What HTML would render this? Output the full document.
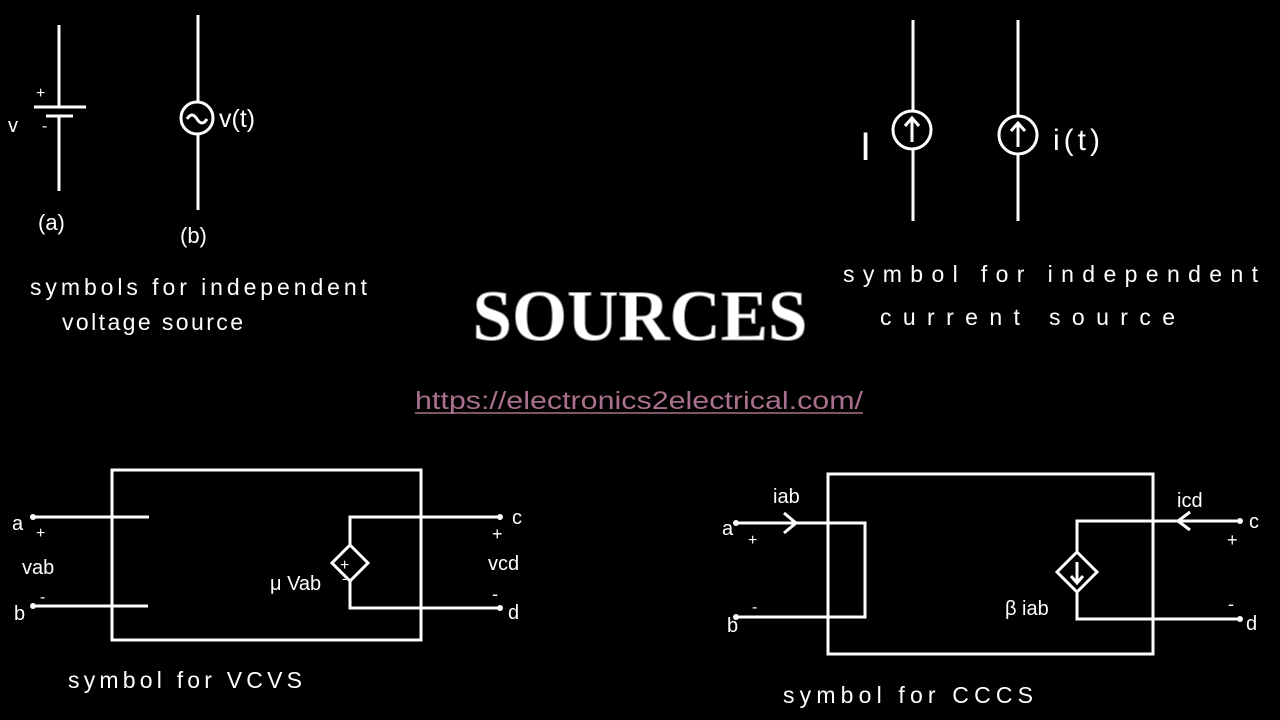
<!DOCTYPE html>
<html><head><meta charset="utf-8"><style>
html,body{margin:0;padding:0;background:#000;width:1280px;height:720px;overflow:hidden}
svg{display:block}
.h{font-family:"Liberation Sans",sans-serif;fill:#fff;font-size:23px}
.s{font-family:"Liberation Sans",sans-serif;fill:#fff;font-size:20px}
</style></head><body>
<svg width="1280" height="720" viewBox="0 0 1280 720">
<rect width="1280" height="720" fill="#000"/>
<g stroke="#fff" stroke-width="3" fill="none">
<line x1="59" y1="25" x2="59" y2="107"/>
<line x1="34" y1="107" x2="86" y2="107"/>
<line x1="46" y1="116" x2="73" y2="116"/>
<line x1="59" y1="116" x2="59" y2="191"/>
<line x1="198" y1="15" x2="198" y2="102"/>
<circle cx="197" cy="118" r="16"/>
<path d="M187 119 q5 -8 10 0 q5 8 10 0"/>
<line x1="198" y1="134" x2="198" y2="210"/>
<line x1="913" y1="20" x2="913" y2="110"/>
<circle cx="912" cy="130" r="19"/>
<line x1="912" y1="142" x2="912" y2="119"/><path d="M905 126 L912 118 L919 126"/>
<line x1="913" y1="149" x2="913" y2="221"/>
<line x1="1018" y1="20" x2="1018" y2="115"/>
<circle cx="1018" cy="135" r="19"/>
<line x1="1018" y1="147" x2="1018" y2="124"/><path d="M1011 131 L1018 123 L1025 131"/>
<line x1="1018" y1="154" x2="1018" y2="221"/>
<rect x="112" y="470" width="309" height="170"/>
<line x1="33" y1="517" x2="149" y2="517"/>
<line x1="33" y1="606" x2="148" y2="606"/>
<path d="M500 517 H350 V545"/>
<path d="M350 581 V608 H500"/>
<path d="M350 545 L368 563 L350 581 L332 563 Z"/>
<rect x="828" y="474" width="325" height="180"/>
<path d="M736 523 H865 V617 H736"/>
<path d="M784 513 L796 523 L784 533"/>
<path d="M1240 521 H1077 V553"/>
<path d="M1077 592 V619 H1240"/>
<path d="M1077 552 L1097 572 L1077 592 L1057 572 Z"/>
<line x1="1077" y1="562" x2="1077" y2="582"/><path d="M1071 576 L1077 583 L1083 576"/>
<path d="M1190 512 L1178 521 L1190 530"/>
</g>
<g fill="#fff">
<circle cx="33" cy="517" r="3"/><circle cx="33" cy="606" r="3"/>
<circle cx="500" cy="517" r="3"/><circle cx="500" cy="608" r="3"/>
<circle cx="736" cy="523" r="3"/><circle cx="736" cy="617" r="3"/>
<circle cx="1240" cy="521" r="3"/><circle cx="1240" cy="619" r="3"/>
</g>
<g class="s">
<text x="8" y="132">v</text><text x="36" y="98" font-size="16">+</text><text x="42" y="131" font-size="16">-</text>
<text x="38" y="230" font-size="22">(a)</text>
<text x="180" y="243" font-size="22">(b)</text>
<text x="219" y="127" font-size="25">v(t)</text>
<text x="860" y="160" font-size="40">I</text>
<text x="1053" y="150" font-size="30" letter-spacing="4">i(t)</text>
<text x="12" y="530">a</text><text x="36" y="538" font-size="16">+</text>
<text x="22" y="574">vab</text>
<text x="14" y="620">b</text><text x="40" y="602" font-size="16">-</text>
<text x="340" y="570" font-size="16">+</text><text x="342" y="583" font-size="14">-</text>
<text x="270" y="590">μ Vab</text>
<text x="512" y="524">c</text><text x="492" y="540" font-size="18">+</text>
<text x="488" y="570">vcd</text>
<text x="492" y="600" font-size="18">-</text><text x="508" y="619">d</text>
<text x="722" y="535">a</text><text x="748" y="545" font-size="16">+</text>
<text x="773" y="503">iab</text>
<text x="727" y="632">b</text><text x="752" y="612" font-size="16">-</text>
<text x="1005" y="615">β iab</text>
<text x="1177" y="507">icd</text>
<text x="1249" y="528">c</text><text x="1227" y="546" font-size="18">+</text>
<text x="1228" y="610" font-size="18">-</text><text x="1246" y="630">d</text>
</g>
<g class="h">
<text x="30" y="295" textLength="337" lengthAdjust="spacing">symbols for independent</text>
<text x="62" y="330" textLength="181" lengthAdjust="spacing">voltage source</text>
<text x="843" y="282" textLength="415" lengthAdjust="spacing">symbol for independent</text>
<text x="880" y="325" textLength="295" lengthAdjust="spacing">current source</text>
<text x="68" y="688" textLength="234" lengthAdjust="spacing">symbol  for VCVS</text>
<text x="783" y="703" textLength="250" lengthAdjust="spacing">symbol  for CCCS</text>
</g>
<text x="640" y="340" text-anchor="middle" font-family="Liberation Serif,serif" font-weight="bold" font-size="72" fill="#fff" stroke="#888" stroke-width="1" textLength="335" lengthAdjust="spacingAndGlyphs">SOURCES</text>
<text x="639" y="409" text-anchor="middle" font-family="Liberation Sans,sans-serif" font-size="25" fill="#a8708c" textLength="448" lengthAdjust="spacingAndGlyphs">https://electronics2electrical.com/</text>
<line x1="415" y1="413" x2="863" y2="413" stroke="#a8708c" stroke-width="1.5"/>
</svg>
</body></html>
